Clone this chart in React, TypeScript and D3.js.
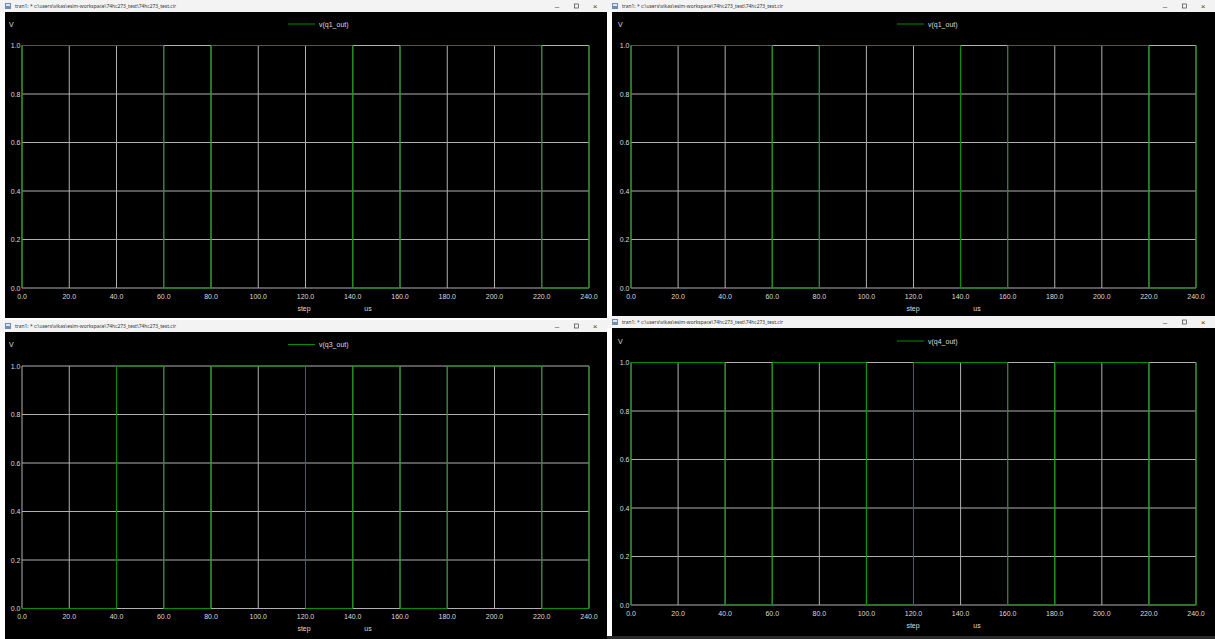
import React from "react";
import * as d3 from "d3";

// Window caption shared by the four ngspice plot windows
const CAPTION = "tran1: * c:\\users\\vikas\\esim-workspace\\74hc273_test\\74hc273_test.cir";

// Axis ticks
const timeTicks = [0, 20, 40, 60, 80, 100, 120, 140, 160, 180, 200, 220, 240];
const voltTicks = [0, 0.2, 0.4, 0.6, 0.8, 1.0];

// Step waveforms: breakpoints (time in us, level in V), held until the next breakpoint
const q1Time = [0, 0, 60, 80, 140, 160, 220, 240];
const q1Volt = [0, 1, 0, 1, 0, 1, 0, 1];

const q3Time = [0, 40, 60, 80, 120, 140, 160, 180, 220, 240];
const q3Volt = [0, 1, 0, 1, 0, 1, 0, 1, 0, 1];

const q4Time = [0, 0, 40, 60, 100, 120, 160, 180, 220, 240];
const q4Volt = [0, 1, 0, 1, 0, 1, 0, 1, 0, 1];

const seriesNames = ["v(q1_out)", "v(q1_out)", "v(q3_out)", "v(q4_out)"];

type Win = {
  left: number; top: number; right: number; bottom: number;
  px0: number; px1: number; py1: number; py0: number;
};

const windows: Win[] = [
  { left: 0, top: 0, right: 607, bottom: 318, px0: 22, px1: 589, py1: 45.5, py0: 288 },
  { left: 607, top: 0, right: 1215, bottom: 316, px0: 631, px1: 1196, py1: 45.5, py0: 288 },
  { left: 0, top: 320, right: 607, bottom: 639, px0: 22, px1: 589, py1: 366, py0: 608.5 },
  { left: 607, top: 316, right: 1215, bottom: 636, px0: 631, px1: 1196, py1: 362.5, py0: 605 },
];

const traces = [
  { t: q1Time, v: q1Volt },
  { t: q1Time, v: q1Volt },
  { t: q3Time, v: q3Volt },
  { t: q4Time, v: q4Volt },
];

const GRID = "#b0b0b0";
const TRACE = "#009000";
const LABEL = "#dcdcdc";
const FONT = "Liberation Sans, Arial, sans-serif";
const fmt = d3.format(".1f");

function PlotWindow({ w, name, t, v }: { w: Win; name: string; t: number[]; v: number[] }) {
  const x = d3.scaleLinear().domain([0, 240]).range([w.px0, w.px1]);
  const y = d3.scaleLinear().domain([0, 1]).range([w.py0, w.py1]);
  const pts: [number, number][] = t.map((ti, i) => [ti, v[i]]);
  const line = d3
    .line<[number, number]>()
    .x((d) => x(d[0]))
    .y((d) => y(d[1]))
    .curve(d3.curveStepAfter);
  const titleH = 12;
  const bx = w.left + 5;
  return (
    <g>
      {/* caption bar */}
      <rect x={w.left} y={w.top} width={w.right - w.left} height={titleH} fill="#f3f3f3" />
      <rect x={w.left + 5} y={w.top + 3} width={6} height={6} fill="#6d8fb3" />
      <rect x={w.left + 6} y={w.top + 4} width={4} height={2} fill="#dfe8f2" />
      <text x={w.left + 15} y={w.top + 8} fontSize={5.2} fill="#333" fontFamily="Segoe UI, Noto Sans, sans-serif"
        textLength={161} lengthAdjust="spacingAndGlyphs">
        {CAPTION}
      </text>
      <text x={w.right - 50} y={w.top + 8.5} fontSize={8} fill="#444" fontFamily={FONT} textAnchor="middle">–</text>
      <rect x={w.right - 32.5} y={w.top + 4} width={4} height={4} fill="none" stroke="#444" strokeWidth={0.7} />
      <text x={w.right - 12} y={w.top + 8.5} fontSize={8} fill="#444" fontFamily={FONT} textAnchor="middle">×</text>
      {/* plot surface */}
      <rect x={bx} y={w.top + titleH} width={w.right - bx} height={w.bottom - w.top - titleH} fill="#000" />
      {/* grid */}
      {timeTicks.map((tk) => (
        <line key={"gx" + tk} x1={x(tk)} x2={x(tk)} y1={y(0)} y2={y(1)} stroke={GRID} strokeWidth={1} />
      ))}
      {voltTicks.map((vk) => (
        <line key={"gy" + vk} x1={x(0)} x2={x(240)} y1={y(vk)} y2={y(vk)} stroke={GRID} strokeWidth={1} />
      ))}
      {/* tick labels */}
      {timeTicks.map((tk) => (
        <text key={"tx" + tk} x={x(tk)} y={w.py0 + 10.5} fontSize={7} fill={LABEL} fontFamily={FONT} textAnchor="middle">
          {fmt(tk)}
        </text>
      ))}
      {voltTicks.map((vk) => (
        <text key={"ty" + vk} x={w.px0 - 1.5} y={y(vk) + 2.5} fontSize={7} fill={LABEL} fontFamily={FONT} textAnchor="end">
          {fmt(vk)}
        </text>
      ))}
      {/* axis names */}
      <text x={w.px0 - 13} y={w.py1 - 19} fontSize={7} fill={LABEL} fontFamily={FONT}>V</text>
      <text x={w.px0 + 282} y={w.py0 + 22.5} fontSize={7} fill={LABEL} fontFamily={FONT} textAnchor="middle">step</text>
      <text x={w.px0 + 346} y={w.py0 + 22.5} fontSize={7} fill={LABEL} fontFamily={FONT} textAnchor="middle">us</text>
      {/* legend */}
      <line x1={w.px0 + 266} x2={w.px0 + 293} y1={w.py1 - 21.5} y2={w.py1 - 21.5} stroke={TRACE} strokeWidth={1} />
      <text x={w.px0 + 297} y={w.py1 - 19} fontSize={7} fill={LABEL} fontFamily={FONT}>{name}</text>
      {/* waveform */}
      <path d={line(pts) || ""} fill="none" stroke={TRACE} strokeWidth={1} />
    </g>
  );
}

export default function App() {
  return (
    <svg
      width={1215}
      height={639}
      style={{ position: "fixed", left: 0, top: 0, background: "#ffffff" }}
    >
      <rect x={0} y={0} width={1215} height={639} fill="#ffffff" />
      <rect x={607} y={636} width={608} height={3} fill="#2b2b2b" />
      {windows.map((w, i) => (
        <PlotWindow key={i} w={w} name={seriesNames[i]} t={traces[i].t} v={traces[i].v} />
      ))}
    </svg>
  );
}
